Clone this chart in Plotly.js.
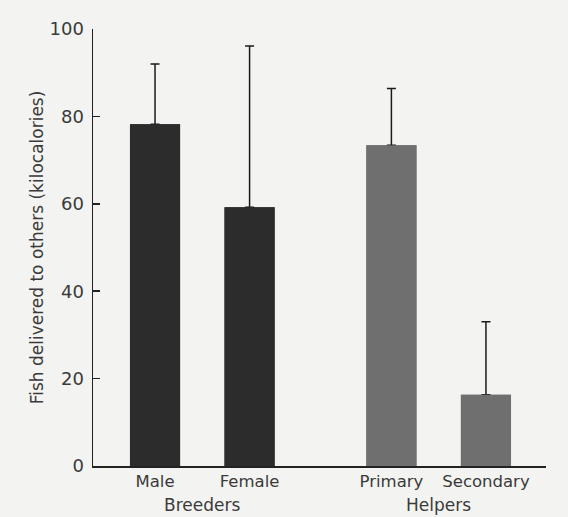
<!DOCTYPE html>
<html>
<head>
<meta charset="utf-8">
<script src="https://cdn.plot.ly/plotly-3.0.1.min.js"></script>
<style>html,body{margin:0;padding:0;background:#f3f3f1;}#chart{width:568px;height:517px;}</style>
</head>
<body>
<div id="chart"></div>
<script>
// Data
const categories = ["Male", "Female", "Primary", "Secondary"];
const groups = ["Breeders", "Helpers"];
const positions = [0, 1, 2.5, 3.5];
const groupPositions = [0.5, 3.0];
const values = [78.2, 59.2, 73.4, 16.3];
const errorsPlus = [13.8, 36.9, 13.0, 16.7];
const yTicks = [0, 20, 40, 60, 80, 100];

const barColors = ["#2c2c2c", "#2c2c2c", "#6f6f6f", "#6f6f6f"];
const fontFam = "'DejaVu Sans', sans-serif";
const txtColor = "#3a3a3a";

const traceErr = {
  type: "bar",
  x: positions,
  y: values,
  width: 0.53,
  marker: {color: barColors, line: {width: 0}},
  error_y: {type: "data", symmetric: false, array: errorsPlus, arrayminus: values.map(() => 0),
            color: "#1a1a1a", thickness: 1.5, width: 4.5},
  hoverinfo: "skip"
};
const traceCover = {
  type: "bar",
  x: positions,
  y: values,
  width: 0.53,
  marker: {color: barColors, line: {width: 0}},
  hoverinfo: "skip"
};

const layout = {
  width: 568, height: 517,
  margin: {l: 93, r: 22, t: 29, b: 51},
  paper_bgcolor: "#f3f3f1",
  plot_bgcolor: "#f3f3f1",
  barmode: "overlay",
  showlegend: false,
  font: {family: fontFam, color: txtColor},
  xaxis: {
    range: [-0.656, 4.135],
    tickvals: positions,
    ticktext: categories,
    ticks: "",
    showline: true, linecolor: "#222", linewidth: 1.5,
    showgrid: false, zeroline: false,
    tickfont: {size: 16.5, color: txtColor, family: fontFam},
    ticklabelstandoff: 0,
    fixedrange: true
  },
  yaxis: {
    range: [0, 100],
    tickvals: yTicks,
    ticks: "inside", ticklen: 7, tickwidth: 1.5, tickcolor: "#222",
    showline: true, linecolor: "#222", linewidth: 1.5,
    showgrid: false, zeroline: false,
    tickfont: {size: 18, color: txtColor, family: fontFam},
    ticklabelstandoff: 4,
    title: {text: "Fish delivered to others (kilocalories)", font: {size: 17, color: txtColor, family: fontFam}, standoff: 1},
    fixedrange: true
  },
  annotations: groups.map((g, i) => ({
    text: g, x: groupPositions[i], xref: "x", y: -0.09, yref: "paper",
    xanchor: "center", yanchor: "middle", showarrow: false,
    font: {size: 17, color: txtColor, family: fontFam}
  }))
};

Plotly.newPlot("chart", [traceErr, traceCover], layout, {staticPlot: true, displayModeBar: false});
</script>
</body>
</html>
